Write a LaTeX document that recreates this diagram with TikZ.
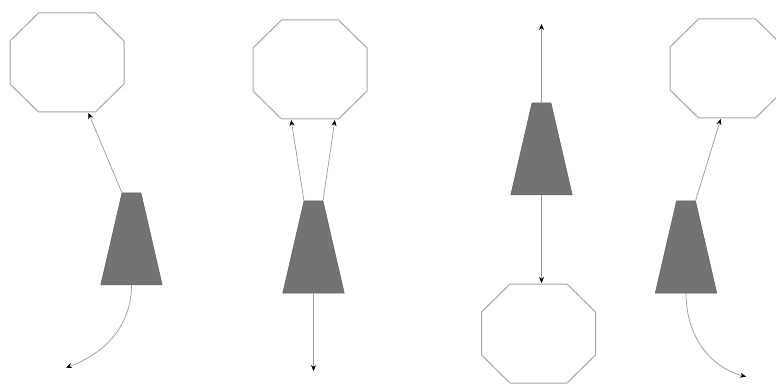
\documentclass[tikz,border=0pt]{standalone}
\usetikzlibrary{shapes.geometric,positioning,arrows.meta}

\begin{document}
\begin{tikzpicture}[x=1pt,y=1pt,>={Stealth[black,length=6pt,width=5pt]},
      link/.style={->,shorten >=1pt,draw=black!40,line width=0.7pt},
      oct node/.style={minimum width=114pt,minimum height=99pt,inner sep=0pt,outer sep=0pt},
      oct line/.style={draw=black!35,line width=1pt},
      trap node/.style={trapezium,trapezium left angle=77,trapezium right angle=77,
        inner xsep=9.5pt,inner ysep=46pt,outer sep=0pt,
        fill=black!55,draw=black!62,line width=0.5pt}]
      \useasboundingbox (0,0) rectangle (776,383);

      \node[trap node] (t1) at (131.5,144) {};
      \node[oct node] (o1) [above=81pt of t1, xshift=-64.5pt] {};
      \coordinate (e1) at (65,15);

      \node[trap node] (t2) at (313.5,136) {};
      \node[oct node] (o2) [above=82pt of t2, xshift=-3.5pt] {};
      \coordinate (e2) at ([yshift=-79pt]t2.south);

      \node[trap node] (t3) at (541.5,234) {};
      \coordinate (e3) at ([yshift=80pt]t3.north);
      \node[oct node] (o3) [below=89pt of t3, xshift=-3pt] {};

      \node[trap node] (t4) at (686,136) {};
      \node[oct node] (o4) [above=83pt of t4, xshift=41pt] {};
      \coordinate (e4) at (747,6);

      % octagon outlines
      \foreach \o in {o1,o2,o3,o4}
        \draw[oct line] ([xshift=-28.5pt]\o.north) -- ([xshift=28.5pt]\o.north)
          -- ([yshift=21.5pt]\o.east) -- ([yshift=-21.5pt]\o.east)
          -- ([xshift=28.5pt]\o.south) -- ([xshift=-28.5pt]\o.south)
          -- ([yshift=-21.5pt]\o.west) -- ([yshift=21.5pt]\o.west) -- cycle;

      \draw[link] (t1.top left corner) -- ([xshift=21pt]o1.south);
      \draw[link] (t1.south) to[out=-90,in=20] (e1);
      \draw[link] (t2.top left corner) -- ([xshift=-19pt]o2.south);
      \draw[link] (t2.top right corner) -- ([xshift=25pt]o2.south);
      \draw[link] (t2.south) -- (e2);
      \draw[link] (t3.north) -- (e3);
      \draw[link] (t3.south) -- (t3.south |- o3.north);
      \draw[link] (t4.top right corner) -- ([xshift=-6pt]o4.south);
      \draw[link] (t4.south) to[out=-90,in=165] (e4);
\end{tikzpicture}
\end{document}
